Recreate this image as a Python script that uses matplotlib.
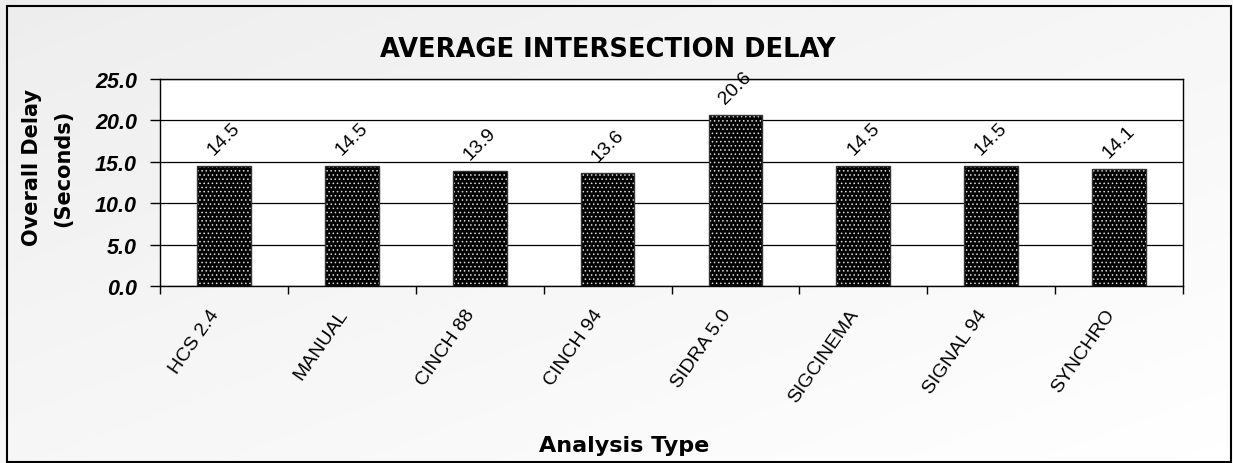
import numpy as np
import matplotlib
matplotlib.use("Agg")
import matplotlib.pyplot as plt
from matplotlib.patches import Rectangle
from matplotlib.transforms import ScaledTranslation

categories = ["HCS 2.4", "MANUAL", "CINCH 88", "CINCH 94", "SIDRA 5.0",
              "SIGCINEMA", "SIGNAL 94", "SYNCHRO"]
delays = [14.5, 14.5, 13.9, 13.6, 20.6, 14.5, 14.5, 14.1]
yticks = [0, 5, 10, 15, 20, 25]

plt.rcParams['font.family'] = ['Liberation Sans', 'DejaVu Sans']
plt.rcParams['hatch.linewidth'] = 0.6

fig = plt.figure(figsize=(12.33, 4.64), dpi=100)

# gradient background + frame
bg = fig.add_axes([0, 0, 1, 1], zorder=-10)
gx, gy = np.meshgrid(np.linspace(0, 1, 200), np.linspace(0, 1, 200))
grad = (gx + gy) / 2
bg.imshow(grad, cmap='Greys_r', vmin=-6, vmax=1, aspect='auto',
          extent=[0, 1, 0, 1], origin='upper')
bg.add_patch(Rectangle((0.006, 0.002), 0.992, 0.983, fill=False,
                       edgecolor='black', linewidth=1.5))
bg.set_xlim(0, 1)
bg.set_ylim(0, 1)
bg.axis('off')

ax = fig.add_axes([160 / 1233, 1 - 287 / 464, (1183 - 160) / 1233, (287 - 80) / 464])
ax.set_facecolor('white')
x = np.arange(len(categories))
ax.bar(x, delays, width=0.42, color='black', edgecolor='#dddddd',
       hatch='....', linewidth=0, zorder=3)
ax.bar(x, delays, width=0.42, fill=False, edgecolor='#333333',
       linewidth=1, zorder=4)

for xi, v in zip(x, delays):
    ax.annotate(f"{v:.1f}", (xi, v), xytext=(0, 6), textcoords='offset points',
                rotation=45, ha='center', va='bottom', fontsize=14)

ax.set_xlim(-0.5, len(categories) - 0.5)
ax.set_ylim(0, 25)
ax.set_yticks(yticks)
ax.set_yticklabels([f"{t:.1f}" for t in yticks], fontsize=15.5,
                   fontweight='bold', fontstyle='italic')
ax.yaxis.grid(True, color='black', linewidth=0.9, zorder=0)
ax.set_axisbelow(True)

ax.set_xticks(x)
ax.set_xticklabels(categories, rotation=55, ha='right', va='center',
                   rotation_mode='anchor', fontsize=14)
ax.tick_params(axis='x', length=0, pad=18)
ax.set_xticks(np.arange(len(categories) + 1) - 0.5, minor=True)
ax.tick_params(axis='x', which='minor', length=6, width=1)
ax.tick_params(axis='y', length=7, width=1, pad=9.5)
shift = ScaledTranslation(-8 / 100, 0, fig.dpi_scale_trans)
for lab in ax.get_xticklabels():
    lab.set_transform(lab.get_transform() + shift)

for s in ax.spines.values():
    s.set_color('black')
    s.set_linewidth(1)

fig.text(624 / 1233, 1 - 452 / 464, "Analysis Type", ha='center', va='baseline',
         fontsize=16, fontweight='bold', family='DejaVu Sans')
fig.text(48 / 1233, 1 - 168 / 464, "Overall Delay\n(Seconds)", ha='center',
         va='center', rotation=90, fontsize=15, fontweight='bold',
         family='DejaVu Sans', linespacing=1.7, multialignment='center')
fig.text(608 / 1233, 1 - 57 / 464, "AVERAGE INTERSECTION DELAY", ha='center',
         va='baseline', fontsize=18.5, fontweight='bold', family='DejaVu Sans')

fig.savefig("out.png", dpi=100)
